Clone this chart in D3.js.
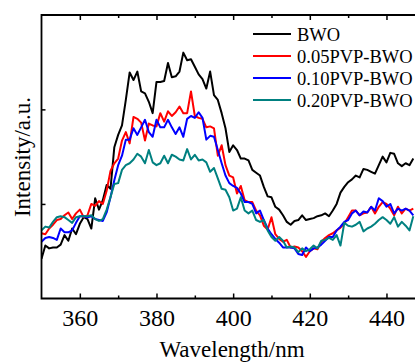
<!DOCTYPE html>
<html>
<head>
<meta charset="utf-8">
<script src="https://cdn.jsdelivr.net/npm/d3@7"></script>
<style>
  body { margin: 0; background: #fff; }
  svg { display: block; }
  text { font-family: "Liberation Serif", "Times New Roman", serif; fill: #000; }
</style>
</head>
<body>
<div id="chart"></div>
<script>
// wavelength grid (nm), 1 nm steps
const wavelengths = d3.range(350, 448);

const seriesNames = ['BWO', '0.05PVP-BWO', '0.10PVP-BWO', '0.20PVP-BWO'];
const seriesColors = ['#000000', '#ff0000', '#0000ff', '#008080'];

// PL intensity (a.u.)
const bwo = [42, 56, 53, 54, 54, 57, 67, 61, 74, 68, 79, 86, 84, 74, 106, 94, 104, 120, 116, 160,
  173, 183, 210, 239, 231, 240, 219, 217, 208, 196, 229, 229, 230, 249, 234, 235, 240, 260, 252, 253,
  245, 237, 232, 222, 240, 215, 210, 196, 180, 155, 162, 157, 148, 148, 146, 136, 133, 130, 118, 108,
  107, 97, 94, 88, 81, 78, 82, 83, 88, 83, 84, 85, 87, 88, 90, 87, 93, 100, 112, 118,
  123, 126, 130, 128, 137, 136, 134, 132, 141, 150, 144, 154, 153, 143, 140, 143, 141, 148];

const pvp005 = [69, 68, 74, 78, 83, 84, 88, 91, 84, 90, 94, 86, 88, 100, 98, 103, 100, 114, 135, 143,
  148, 167, 176, 164, 192, 190, 186, 167, 185, 183, 182, 196, 187, 198, 193, 197, 203, 196, 196, 219,
  193, 191, 190, 181, 182, 180, 151, 162, 141, 130, 128, 111, 119, 104, 102, 102, 93, 88, 77, 73,
  86, 68, 63, 60, 62, 54, 55, 54, 50, 44, 50, 53, 52, 60, 64, 67, 69, 72, 75, 79,
  86, 93, 93, 88, 90, 91, 97, 90, 97, 102, 100, 95, 88, 97, 90, 95, 93, 95];

const pvp010 = [60, 64, 65, 64, 62, 74, 70, 70, 72, 80, 87, 87, 86, 87, 84, 83, 82, 91, 107, 125,
  141, 151, 168, 168, 180, 173, 181, 189, 176, 171, 189, 181, 181, 189, 181, 174, 181, 171, 190, 193,
  191, 197, 191, 168, 172, 171, 157, 143, 130, 122, 119, 117, 111, 102, 102, 100, 90, 93, 83, 74,
  68, 63, 59, 54, 54, 54, 53, 47, 46, 54, 50, 53, 54, 57, 61, 65, 65, 72, 76, 81,
  83, 90, 93, 88, 92, 91, 97, 93, 106, 103, 97, 100, 90, 95, 93, 95, 93, 88];

const pvp020 = [72, 76, 75, 81, 86, 87, 86, 83, 80, 86, 87, 87, 87, 88, 84, 82, 84, 94, 107, 121,
  122, 136, 141, 143, 147, 153, 150, 143, 157, 144, 141, 143, 151, 143, 152, 150, 147, 146, 158, 147,
  152, 146, 147, 144, 134, 138, 127, 116, 115, 107, 93, 95, 107, 93, 90, 93, 83, 81, 83, 72,
  65, 61, 65, 61, 54, 55, 54, 49, 53, 50, 52, 56, 53, 61, 62, 64, 62, 67, 56, 80,
  77, 76, 78, 81, 71, 74, 76, 79, 83, 86, 83, 79, 86, 76, 81, 77, 72, 87];

const seriesValues = [bwo, pvp005, pvp010, pvp020];

const xMajorTicks = [360, 380, 400, 420, 440];
const xMinorTicks = [370, 390, 410, 430, 450];
const yTicks = [100, 200];

const width = 415, height = 363;
const margin = { top: 15, left: 41.5, bottom: 65 };
const plotBottom = height - margin.bottom + 0.5;

const svg = d3.select('#chart')
  .append('svg')
  .attr('width', width)
  .attr('height', height);

const x = d3.scaleLinear()
  .domain([350, 450])
  .range([margin.left, margin.left + 100 * 3.833]);

const y = d3.scaleLinear()
  .domain([0, 300])
  .range([plotBottom, margin.top - 0.2]);

svg.append('clipPath').attr('id', 'clip')
  .append('rect')
  .attr('x', margin.left).attr('y', margin.top)
  .attr('width', width - margin.left).attr('height', plotBottom - margin.top);

// series
const line = d3.line()
  .x((d, i) => x(wavelengths[i]))
  .y(d => y(d));

svg.append('g')
  .attr('clip-path', 'url(#clip)')
  .selectAll('path')
  .data(seriesValues)
  .enter()
  .append('path')
  .attr('d', d => line(d))
  .attr('fill', 'none')
  .attr('stroke', (d, i) => seriesColors[i])
  .attr('stroke-width', 2)
  .attr('stroke-linejoin', 'round');

// axes, ticks inward
const bottomAxis = svg.append('g')
  .attr('transform', `translate(0,${plotBottom})`)
  .call(d3.axisBottom(x).tickValues(xMajorTicks).tickSize(-5).tickSizeOuter(0).tickPadding(10));
bottomAxis.selectAll('text').style('font-size', '24px').style('font-family', '"Liberation Serif", serif');

svg.append('g')
  .attr('transform', `translate(0,${plotBottom})`)
  .call(d3.axisBottom(x).tickValues(xMinorTicks).tickSize(-3).tickSizeOuter(0).tickFormat(''));

svg.append('g')
  .attr('transform', `translate(0,${margin.top})`)
  .call(d3.axisTop(x).tickValues(xMajorTicks).tickSize(-5).tickSizeOuter(0).tickFormat(''));

svg.append('g')
  .attr('transform', `translate(0,${margin.top})`)
  .call(d3.axisTop(x).tickValues(xMinorTicks).tickSize(-3).tickSizeOuter(0).tickFormat(''));

svg.append('g')
  .attr('transform', `translate(${margin.left},0)`)
  .call(d3.axisLeft(y).tickValues(yTicks).tickSize(-4).tickSizeOuter(0).tickFormat(''));

svg.selectAll('.domain').remove();
svg.selectAll('.tick line').attr('stroke', '#000').attr('stroke-width', 1.5);

// frame (right side is cut off in the original)
svg.append('path')
  .attr('d', `M${width},${margin.top}H${margin.left}V${plotBottom}H${width}`)
  .attr('fill', 'none')
  .attr('stroke', '#000')
  .attr('stroke-width', 1.8);

// axis titles
svg.append('text')
  .attr('x', 232)
  .attr('y', 357)
  .attr('text-anchor', 'middle')
  .style('font-size', '23px')
  .text('Wavelength/nm');

svg.append('text')
  .attr('transform', 'translate(29.5,157) rotate(-90)')
  .attr('text-anchor', 'middle')
  .style('font-size', '23px')
  .text('Intensity/a.u.');

// legend
const legend = svg.append('g')
  .selectAll('g')
  .data(seriesNames)
  .enter()
  .append('g')
  .attr('transform', (d, i) => `translate(253,${34 + i * 22})`);

legend.append('line')
  .attr('x1', 0).attr('x2', 38)
  .attr('stroke', (d, i) => seriesColors[i])
  .attr('stroke-width', 2);

legend.append('text')
  .attr('x', 44)
  .attr('y', 6.5)
  .style('font-size', '18.5px')
  .text(d => d);
</script>
</body>
</html>
